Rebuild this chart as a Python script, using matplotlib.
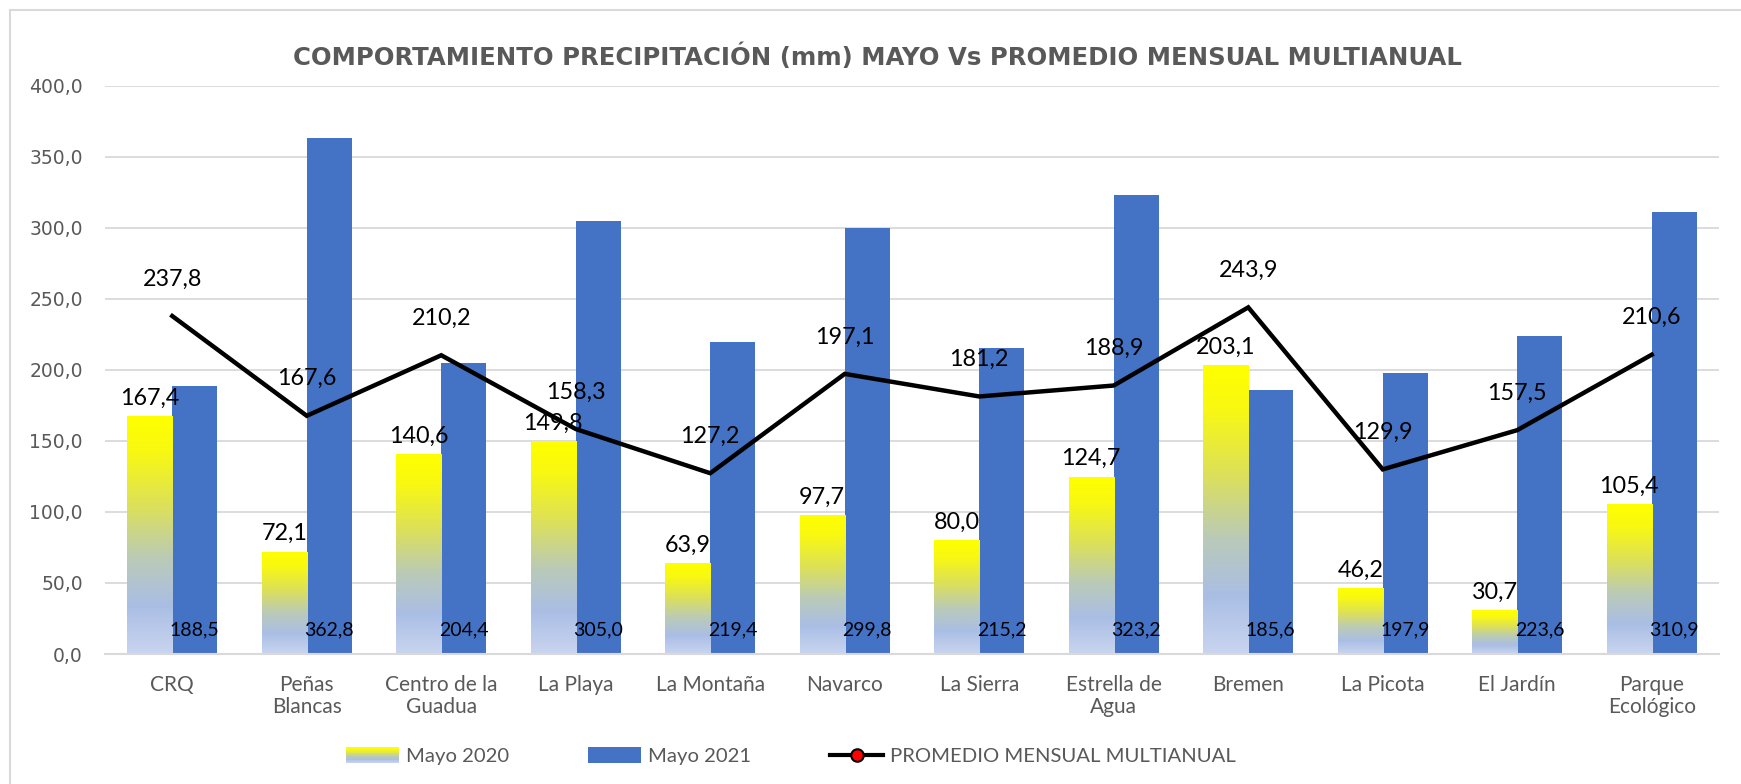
import matplotlib
matplotlib.use("Agg")
import matplotlib.pyplot as plt
import numpy as np
from matplotlib.colors import LinearSegmentedColormap
from matplotlib.patches import Rectangle
from matplotlib.lines import Line2D
from matplotlib.legend_handler import HandlerBase

categories = ["CRQ", "Peñas\nBlancas", "Centro de la\nGuadua", "La Playa", "La Montaña",
              "Navarco", "La Sierra", "Estrella de\nAgua", "Bremen", "La Picota",
              "El Jardín", "Parque\nEcológico"]
mayo_2020 = [167.4, 72.1, 140.6, 149.8, 63.9, 97.7, 80.0, 124.7, 203.1, 46.2, 30.7, 105.4]
mayo_2021 = [188.5, 362.8, 204.4, 305.0, 219.4, 299.8, 215.2, 323.2, 185.6, 197.9, 223.6, 310.9]
promedio = [237.8, 167.6, 210.2, 158.3, 127.2, 197.1, 181.2, 188.9, 243.9, 129.9, 157.5, 210.6]
yticks = [0, 50, 100, 150, 200, 250, 300, 350, 400]

title = "COMPORTAMIENTO PRECIPITACIÓN (mm) MAYO Vs PROMEDIO MENSUAL MULTIANUAL"
series_names = ["Mayo 2020", "Mayo 2021", "PROMEDIO MENSUAL MULTIANUAL"]

BLUE = "#4472C4"
GRID = "#D9D9D9"
TXT = "#595959"
LBL_FONT = "Lato"

grad_cmap = LinearSegmentedColormap.from_list("yb", [
    (0.0, "#C9D5EF"), (0.2, "#AABEE5"), (0.4, "#BACAB8"),
    (0.62, "#DCE05A"), (0.85, "#F8F812"), (1.0, "#FFFF00")])

def fmt(v):
    return f"{v:.1f}".replace(".", ",")

W, H = 1741, 784
fig = plt.figure(figsize=(W / 100, H / 100), dpi=100)
fig.patch.set_facecolor("white")
ax = fig.add_axes([105 / W, 1 - 654 / H, (1719 - 105) / W, (654 - 85.5) / H])

x = np.arange(len(categories))
bw = 0.335
bars20 = ax.bar(x - bw / 2, mayo_2020, bw, facecolor="none", edgecolor="none", zorder=2)
bars21 = ax.bar(x + bw / 2, mayo_2021, bw, color=BLUE, zorder=2)

grad = np.linspace(0, 1, 256).reshape(-1, 1)
for b in bars20:
    x0, w, h = b.get_x(), b.get_width(), b.get_height()
    im = ax.imshow(grad, extent=[x0, x0 + w, 0, h], origin="lower", aspect="auto",
                   cmap=grad_cmap, zorder=2, interpolation="bilinear")
    im.set_clip_path(b)

ax.plot(x, promedio, color="black", lw=3.2, zorder=3, solid_joinstyle="miter")

ax.set_xlim(-0.5, len(categories) - 0.5)
ax.set_ylim(0, 400)
ax.set_yticks(yticks)
ax.set_yticklabels([fmt(v) for v in yticks], fontsize=13.5, color=TXT, family="DejaVu Sans")
ax.set_xticks(x)
ax.set_xticklabels(categories, fontsize=15, color=TXT, family=LBL_FONT, linespacing=1.15)
ax.tick_params(axis="both", length=0)
ax.tick_params(axis="x", pad=15)
ax.tick_params(axis="y", pad=16)
ax.grid(axis="y", color=GRID, lw=1.3, zorder=0)
ax.set_axisbelow(True)
for s in ["top", "right", "left"]:
    ax.spines[s].set_visible(False)
ax.spines["bottom"].set_color(GRID)
ax.spines["bottom"].set_linewidth(1.5)

for xi, v in zip(x, mayo_2020):
    ax.annotate(fmt(v), (xi - bw / 2, v), xytext=(0, 18), textcoords="offset pixels",
                ha="center", va="center", fontsize=16.8, family=LBL_FONT, color="black", zorder=4)
for xi, v in zip(x, mayo_2021):
    ax.annotate(fmt(v), (xi + bw / 2, 0), xytext=(0, 24), textcoords="offset pixels",
                ha="center", va="center", fontsize=14, family=LBL_FONT, color="black", zorder=4)
for xi, v in zip(x, promedio):
    ax.annotate(fmt(v), (xi, v), xytext=(0, 37), textcoords="offset pixels",
                ha="center", va="center", fontsize=16.8, family=LBL_FONT, color="black", zorder=4)

fig.text(877 / W, 1 - 57 / H, title, ha="center", va="center", fontsize=17.6,
         fontweight="bold", color=TXT, family="DejaVu Sans")

# outer border (top and left edges visible)
fig.add_artist(Rectangle((10 / W, -0.05), 1.2, 1 - 10 / H + 0.05, transform=fig.transFigure,
                         facecolor="none", edgecolor=GRID, lw=1.5))


class GradHandler(HandlerBase):
    def create_artists(self, legend, orig_handle, xdescent, ydescent, width, height, fontsize, trans):
        n = 20
        arts = []
        for i in range(n):
            r = Rectangle((-xdescent, -ydescent + height * i / n), width, height / n + 0.3,
                          facecolor=grad_cmap((i + 0.5) / n), edgecolor="none", transform=trans)
            arts.append(r)
        return arts


h20 = Rectangle((0, 0), 1, 1)
h21 = Rectangle((0, 0), 1, 1, facecolor=BLUE)
hline = Line2D([], [], color="black", lw=3, marker="o", markersize=9,
               markerfacecolor="red", markeredgecolor="black", markeredgewidth=1.5)
leg = fig.legend([h20, h21, hline], series_names, loc="center",
                 bbox_to_anchor=(791 / W, 1 - 756 / H), ncol=3, frameon=False,
                 handler_map={h20: GradHandler()}, prop={"family": LBL_FONT, "size": 14.6},
                 handlelength=2.6, handleheight=0.8, handletextpad=0.35, columnspacing=3.9)
for t in leg.get_texts():
    t.set_color(TXT)

fig.savefig("out.png", dpi=100, facecolor="white")
